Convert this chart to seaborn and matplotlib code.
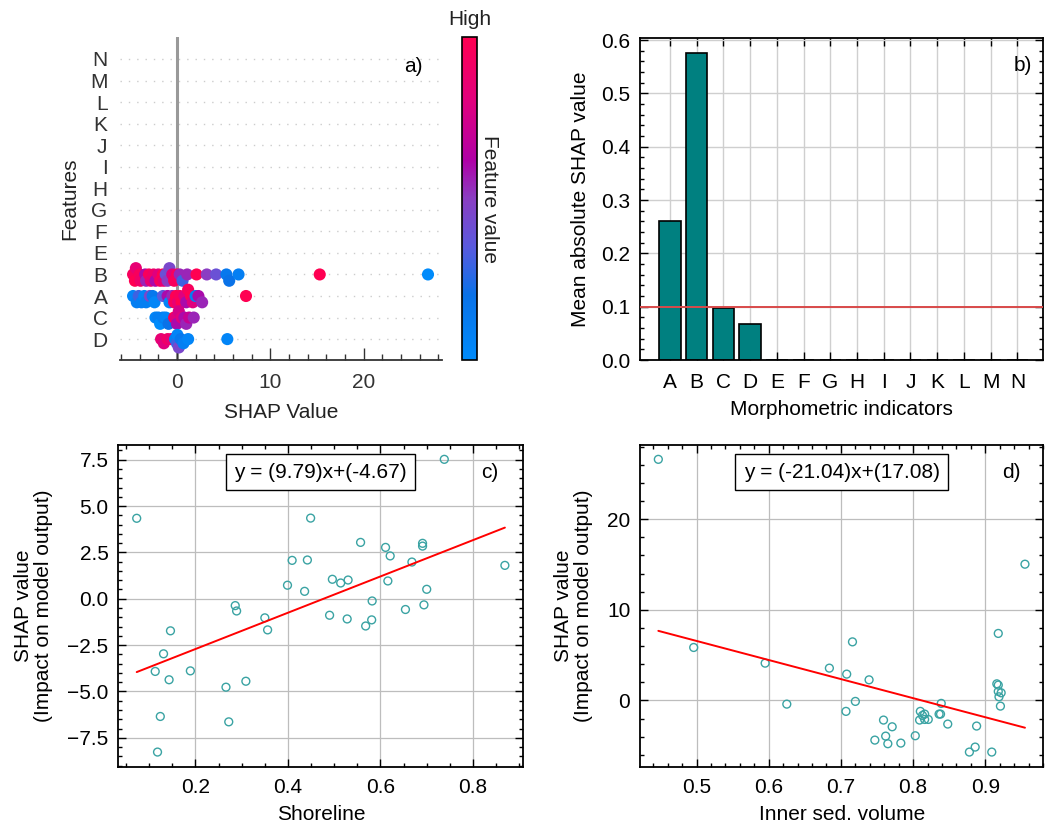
import warnings
import numpy as np
import pandas as pd
import matplotlib
matplotlib.use("Agg")
import matplotlib.pyplot as plt
from matplotlib.colors import LinearSegmentedColormap, Normalize
from matplotlib.cm import ScalarMappable
from matplotlib.ticker import AutoMinorLocator, MultipleLocator
import seaborn as sns

warnings.filterwarnings("ignore")

sns.set_theme(style="ticks")
plt.rcParams["font.family"] = ["Liberation Sans", "DejaVu Sans"]
plt.rcParams.update({"text.color": "black", "axes.labelcolor": "black",
                     "xtick.labelcolor": "black", "ytick.labelcolor": "black"})

# ---------------- data ----------------
# beeswarm rows (top to bottom)
features = ["N", "M", "L", "K", "J", "I", "H", "G", "F", "E", "B", "A", "C", "D"]

shap_B = [-4.7, -4.5, -4.4, -4.0, -3.9, -3.4, -3.3, -3.0, -2.8, -2.5, -2.3, -2.0,
          -1.8, -1.5, -1.4, -1.2, -1.0, -0.8, -0.5, -0.3, 0.0, 0.3, 0.6, 1.1,
          2.1, 3.2, 4.2, 5.3, 5.6, 6.6, 15.3, 26.9]
fval_B = [0.95, 1.0, 0.85, 0.95, 0.9, 0.6, 0.55, 0.95, 0.85, 0.9, 0.6, 0.8,
          0.95, 1.0, 0.85, 0.4, 0.5, 0.45, 0.8, 0.95, 0.95, 0.55, 0.3, 0.55,
          1.0, 0.5, 0.4, 0.15, 0.2, 0.1, 1.0, 0.0]

shap_A = [-4.7, -4.3, -4.1, -3.8, -3.5, -3.3, -2.9, -2.6, -2.4, -1.5, -1.0, -0.8,
          -0.5, -0.3, -0.1, 0.1, 0.3, 0.5, 0.8, 1.0, 1.2, 1.5, 1.7, 2.0, 2.3,
          2.7, 7.4]
fval_A = [0.05, 0.1, 0.3, 0.1, 0.05, 0.1, 0.45, 0.15, 0.05, 0.35, 0.6, 0.05,
          0.55, 0.95, 1.0, 0.85, 0.95, 1.0, 0.8, 0.6, 0.95, 1.0, 0.8, 0.1, 0.6,
          0.55, 1.0]

shap_C = [-2.3, -2.0, -1.8, -1.5, -1.2, -0.9, -0.3, -0.1, 0.0, 0.2, 0.5, 0.8,
          1.0, 1.3, 1.8]
fval_C = [0.05, 0.1, 0.0, 0.1, 0.05, 0.2, 1.0, 0.8, 0.6, 0.75, 0.8, 0.6,
          0.55, 0.7, 0.55]

shap_D = [-1.7, -1.4, -1.0, -0.6, -0.2, 0.0, 0.05, 0.2, 0.4, 0.7, 1.2, 5.4]
fval_D = [0.85, 0.8, 0.9, 0.85, 0.1, 0.3, 0.05, 0.45, 0.15, 0.1, 0.05, 0.05]

# mean |SHAP| per indicator
indicators = list("ABCDEFGHIJKLMN")
mean_abs_shap = [0.26, 0.575, 0.098, 0.068, 0, 0, 0, 0, 0, 0, 0, 0, 0, 0]
threshold = 0.1

# dependence: shoreline
shoreline = [0.073, 0.738, 0.449, 0.557, 0.611, 0.621, 0.691, 0.691, 0.668, 0.869,
             0.409, 0.442, 0.496, 0.514, 0.530, 0.399, 0.436, 0.616, 0.700, 0.582,
             0.694, 0.654, 0.490, 0.528, 0.581, 0.568, 0.286, 0.289, 0.350, 0.356,
             0.146, 0.131, 0.113, 0.189, 0.143, 0.309, 0.266, 0.124, 0.272, 0.118]
shap_shoreline = [4.34, 7.52, 4.35, 3.04, 2.77, 2.31, 2.99, 2.84, 1.98, 1.80,
                  2.07, 2.09, 1.05, 0.85, 1.01, 0.73, 0.40, 0.96, 0.51, -0.12,
                  -0.33, -0.58, -0.89, -1.09, -1.14, -1.47, -0.37, -0.66, -1.03, -1.68,
                  -1.73, -2.97, -3.92, -3.89, -4.37, -4.45, -4.77, -6.35, -6.64, -8.27]
shore_slope, shore_intercept = 9.79, -4.67

# dependence: inner sediment volume
inner_vol = [0.447, 0.955, 0.496, 0.595, 0.625, 0.684, 0.716, 0.708, 0.739, 0.720,
             0.707, 0.918, 0.916, 0.918, 0.918, 0.922, 0.919, 0.921, 0.839, 0.838,
             0.836, 0.810, 0.813, 0.816, 0.809, 0.816, 0.821, 0.848, 0.888, 0.759,
             0.771, 0.762, 0.803, 0.747, 0.765, 0.783, 0.886, 0.878, 0.909]
shap_inner_vol = [26.6, 15.03, 5.84, 4.11, -0.41, 3.56, 6.46, 2.90, 2.27, -0.11,
                  -1.21, 7.39, 1.83, 1.69, 0.99, 0.84, 0.40, -0.63, -0.33, -1.51,
                  -1.51, -1.21, -1.66, -1.51, -2.17, -2.10, -2.10, -2.61, -2.83, -2.17,
                  -2.91, -3.94, -3.90, -4.38, -4.78, -4.71, -5.15, -5.70, -5.70]
vol_slope, vol_intercept = -21.04, 17.08

# ---------------- styling ----------------
red_blue = LinearSegmentedColormap.from_list(
    "red_blue",
    [(0.0, "#008bfb"), (0.2, "#0a72e8"), (0.35, "#5a5ade"), (0.5, "#8a3ec2"),
     (0.62, "#b000a6"), (0.8, "#e0007e"), (1.0, "#ff0052")])
teal_bar = "#008080"
teal_pt = "#3aa3a3"
FS = 15

fig = plt.figure(figsize=(10.46, 8.3), dpi=100)
fig.patch.set_facecolor("white")


def W(px):
    return px / 1046


def H(px):
    return px / 830


def box_axes(ax):
    for s in ax.spines.values():
        s.set_linewidth(1.3)
        s.set_color("black")
    ax.xaxis.set_minor_locator(AutoMinorLocator())
    ax.yaxis.set_minor_locator(AutoMinorLocator())
    ax.tick_params(which="both", direction="in", top=True, right=True,
                   labelsize=FS, color="black", labelcolor="black", width=1)
    ax.tick_params(which="major", length=6)
    ax.tick_params(which="minor", length=3)
    ax.tick_params(axis="y", which="major", pad=7)
    ax.grid(True, which="major", color="#bdbdbd", lw=0.9)
    ax.set_axisbelow(True)


def layer_offsets(values, bin_width=0.5, row_height=0.65):
    """Stack points that fall in the same SHAP bin above/below the row centre."""
    values = np.asarray(values, dtype=float)
    quant = np.round(values / bin_width)
    order = np.argsort(quant, kind="stable")
    ys = np.zeros(len(values))
    layer, last_bin = 0, None
    for ind in order:
        if quant[ind] != last_bin:
            layer = 0
        ys[ind] = np.ceil(layer / 2) * ((layer % 2) * 2 - 1)
        layer += 1
        last_bin = quant[ind]
    return ys * (0.9 * (row_height / np.max(ys + 1)))


# ---------------- a) beeswarm ----------------
axa = fig.add_axes([W(120), 1 - H(360), W(322), H(323)])
rows = []
for name, sv, fv in [("B", shap_B, fval_B), ("A", shap_A, fval_A),
                     ("C", shap_C, fval_C), ("D", shap_D, fval_D)]:
    pos = features.index(name)
    rows.append(pd.DataFrame({"shap": sv, "row": pos + layer_offsets(sv),
                              "fval": fv}))
bees = pd.concat(rows, ignore_index=True)

for i in range(len(features)):
    axa.axhline(i, color="#cccccc", lw=1.0, dashes=(1, 5), zorder=-1)
axa.axvline(0, color="#999999", lw=2.2, zorder=-1)
sns.scatterplot(data=bees, x="shap", y="row", hue="fval", palette=red_blue,
                hue_norm=(0, 1), s=76, linewidth=0, legend=False, ax=axa,
                zorder=3)
axa.set_yticks(range(len(features)))
axa.set_yticklabels(features)
axa.set_ylim(13.97, -1.02)
axa.set_xlim(-6.1, 28.4)
for s in ["top", "right", "left"]:
    axa.spines[s].set_visible(False)
axa.spines["bottom"].set_linewidth(1.3)
axa.spines["bottom"].set_color("#333333")
axa.set_xticks([0, 10, 20])
axa.xaxis.set_minor_locator(AutoMinorLocator())
axa.tick_params(axis="x", which="both", direction="in", color="#333333", width=1,
                labelsize=FS, labelcolor="#333333", bottom=True, top=False)
axa.tick_params(axis="x", which="major", length=9, pad=9)
axa.tick_params(axis="x", which="minor", length=4)
axa.tick_params(axis="y", length=0, labelsize=FS, labelcolor="#333333", pad=9)
axa.set_xlabel("SHAP Value", fontsize=FS, color="#222222", labelpad=8)
axa.set_ylabel("Features", fontsize=FS, color="#222222", labelpad=8)
axa.grid(False)
axa.text(0.91, 0.91, "a)", transform=axa.transAxes, fontsize=FS,
         ha="center", va="center")

cax = fig.add_axes([W(462), 1 - H(360), W(15), H(323)])
cb = fig.colorbar(ScalarMappable(norm=Normalize(0, 1), cmap=red_blue), cax=cax)
cb.set_ticks([])
cb.outline.set_linewidth(1.2)
cb.outline.set_edgecolor("black")
cax.text(0.5, 1.025, "High", transform=cax.transAxes, ha="center", va="bottom",
         fontsize=FS, color="#222222")
cb.set_label("Feature value", fontsize=FS, rotation=270, labelpad=16, color="#222222")

# ---------------- b) mean |SHAP| bars ----------------
axb = fig.add_axes([W(640), 1 - H(360), W(403.3), H(321.7)])
box_axes(axb)
sns.barplot(x=indicators, y=mean_abs_shap, color=teal_bar, saturation=1,
            edgecolor="black", linewidth=1.2, width=0.8, ax=axb)
axb.axhline(threshold, color="#d94a4a", lw=1.4, zorder=4)
axb.set_xlim(-1.12, 13.97)
axb.set_ylim(0, 0.6035)
axb.xaxis.set_minor_locator(plt.NullLocator())
axb.yaxis.set_minor_locator(AutoMinorLocator())
axb.tick_params(axis="x", which="major", length=6, pad=9)
axb.grid(True, which="major", color="#cfcfcf", lw=1.0)
axb.set_xlabel("Morphometric indicators", fontsize=FS, labelpad=6)
axb.set_ylabel("Mean absolute SHAP value", fontsize=FS, labelpad=8)
axb.text(0.95, 0.915, "b)", transform=axb.transAxes, fontsize=FS,
         ha="center", va="center")

# ---------------- c) shoreline dependence ----------------
axc = fig.add_axes([W(118.3), 1 - H(766.7), W(405), H(322)])
box_axes(axc)
sns.scatterplot(x=shoreline, y=shap_shoreline, color=teal_pt, facecolors="none",
                edgecolor=teal_pt, linewidth=1, s=32, ax=axc, zorder=3)
xs = np.array([min(shoreline), max(shoreline)])
axc.plot(xs, shore_slope * xs + shore_intercept, color="red", lw=1.4, zorder=4)
axc.xaxis.set_minor_locator(AutoMinorLocator())
axc.yaxis.set_minor_locator(AutoMinorLocator())
axc.tick_params(axis="x", pad=8)
axc.set_xlabel("Shoreline", fontsize=FS, labelpad=6)
axc.set_ylabel("SHAP value\n(Impact on model output)", fontsize=FS,
               labelpad=10, linespacing=1.1)
axc.text(0.5, 0.915, f"y = ({shore_slope:.2f})x+({shore_intercept:.2f})",
         transform=axc.transAxes, ha="center", va="center", fontsize=FS,
         bbox=dict(boxstyle="square,pad=0.4", fc="white", ec="black", lw=1))
axc.text(0.918, 0.915, "c)", transform=axc.transAxes, fontsize=FS,
         ha="center", va="center")

# ---------------- d) inner sediment volume dependence ----------------
axd = fig.add_axes([W(640), 1 - H(766.7), W(403.3), H(322)])
box_axes(axd)
sns.scatterplot(x=inner_vol, y=shap_inner_vol, color=teal_pt, facecolors="none",
                edgecolor=teal_pt, linewidth=1, s=32, ax=axd, zorder=3)
xs = np.array([min(inner_vol), max(inner_vol)])
axd.plot(xs, vol_slope * xs + vol_intercept, color="red", lw=1.4, zorder=4)
axd.yaxis.set_major_locator(MultipleLocator(10))
axd.xaxis.set_minor_locator(AutoMinorLocator())
axd.yaxis.set_minor_locator(AutoMinorLocator())
axd.tick_params(axis="x", pad=8)
axd.set_xlabel("Inner sed. volume", fontsize=FS, labelpad=6)
axd.set_ylabel("SHAP value\n(Impact on model output)", fontsize=FS,
               labelpad=10, linespacing=1.1)
axd.text(0.5, 0.915, f"y = ({vol_slope:.2f})x+({vol_intercept:.2f})",
         transform=axd.transAxes, ha="center", va="center", fontsize=FS,
         bbox=dict(boxstyle="square,pad=0.4", fc="white", ec="black", lw=1))
axd.text(0.92, 0.915, "d)", transform=axd.transAxes, fontsize=FS,
         ha="center", va="center")

fig.savefig("out.png", dpi=100, facecolor="white")
